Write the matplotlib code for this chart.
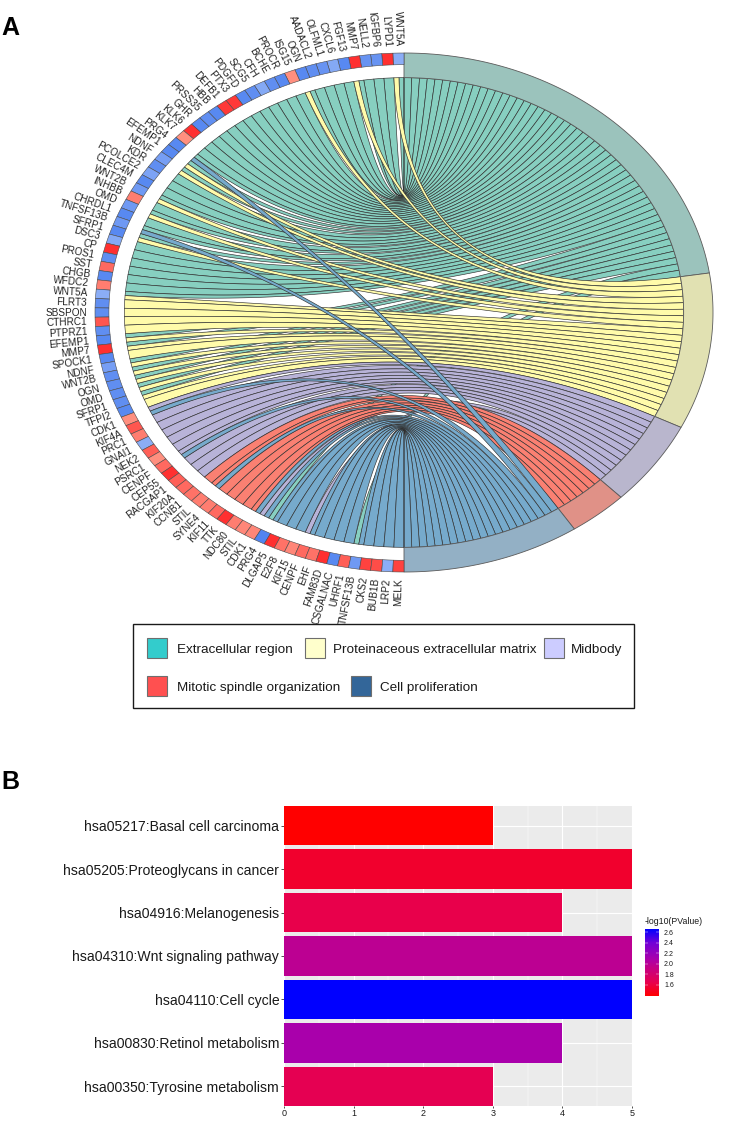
import numpy as np
import matplotlib
matplotlib.use("Agg")
import matplotlib.pyplot as plt
from matplotlib.colors import LinearSegmentedColormap, Normalize
from matplotlib.cm import ScalarMappable
from matplotlib.patches import Rectangle

plt.rcParams['font.family'] = ['Liberation Sans', 'DejaVu Sans']

# panel A, genes from the top going anticlockwise
genes = ['WNT5A', 'LYPD1', 'IGFBP6', 'NELL2', 'MMP7', 'FGF13', 'CXCL6', 'OLFML1', 'AADACL2', 'OGN',
         'ISG15', 'PROCR', 'BCHE', 'CFH', 'SCG5', 'PDGFD', 'PTX3', 'DEFB1', 'HBB', 'PRSS35',
         'GHR', 'KLK6', 'KLK7', 'PRG4', 'EFEMP1', 'NDNF', 'KDR', 'PCOLCE2', 'CLEC4M', 'WNT2B',
         'INHBB', 'OMD', 'CHRDL1', 'TNFSF13B', 'SFRP1', 'DSC3', 'CP', 'PROS1', 'SST', 'CHGB',
         'WFDC2', 'WNT5A', 'FLRT3', 'SBSPON', 'CTHRC1', 'PTPRZ1', 'EFEMP1', 'MMP7', 'SPOCK1', 'NDNF',
         'WNT2B', 'OGN', 'OMD', 'SFRP1', 'TFPI2', 'CDK1', 'KIF4A', 'PRC1', 'GNAI1', 'NEK2',
         'PSRC1', 'CENPF', 'CEP55', 'RACGAP1', 'KIF20A', 'CCNB1', 'STIL', 'SYNE4', 'KIF11', 'TTK',
         'NDC80', 'STIL', 'CDK1', 'PRG4', 'DLGAP5', 'E2F8', 'KIF15', 'CENPF', 'EHF', 'FAM83D',
         'CSGALNAC', 'UHRF1', 'TNFSF13B', 'CKS2', 'BUB1B', 'LRP2', 'MELK']

# fold change colour of each gene cell, estimated from the shades
gene_fc = [-0.55, 1.0, -0.8, -0.8, 1.0, -0.9, -0.6, -0.8, -0.85, -0.9,
           0.5, -0.9, -0.85, -0.6, -0.85, -0.9, 0.95, 0.95, -0.9, -0.85,
           -0.9, 1.0, 0.5, -0.9, -0.9, -0.7, -0.85, -0.65, -0.9, -0.75,
           0.6, -0.75, -0.9, -0.75, -0.9, -0.6, 1.0, -0.85, 0.7, -0.9,
           0.6, -0.55, -0.85, -0.85, 0.8, -0.85, -0.9, 1.0, -0.9, -0.7,
           -0.85, -0.85, -0.85, -0.85, -0.9, 0.5, 0.8, 0.6, -0.55, 0.75,
           0.5, 0.7, 1.0, 0.75, 0.7, 0.65, 0.6, 0.6, 0.7, 1.0,
           0.6, 0.55, 0.55, -0.95, 1.0, 0.65, 0.55, 0.7, 0.65, 1.0,
           -0.9, 0.75, -0.75, 0.9, 0.85, -0.55, 0.9]

# rows of each term, the term order is also the draw order
rows_ec = [0, 1, 2, 3, 4, 5, 6, 7, 8, 9, 10, 11, 12, 13, 14, 15, 16, 17, 18, 19, 20,
           21, 22, 23, 24, 25, 26, 27, 28, 29, 30, 31, 32, 33, 34, 35, 36, 37, 38, 39, 40,
           41, 46, 47, 49, 50, 51, 52, 53, 73, 82]
rows_matrix = [0, 4, 9, 24, 25, 29, 31, 34, 41, 42, 43, 44, 45, 46, 47, 48, 49, 50, 51, 52, 53, 54]
rows_midbody = [55, 56, 57, 58, 59, 60, 61, 62, 63, 64, 72, 77]
rows_spindle = [65, 66, 67, 68, 69, 70, 71]
rows_prolif = [23, 33, 55, 61, 66, 71, 72, 73, 74, 75, 76, 77, 78, 79, 80, 81, 82, 83, 84, 85, 86]

term_rows = [rows_ec, rows_matrix, rows_midbody, rows_spindle, rows_prolif]
ribbon_cols = ['#87CFC0', '#FFFBAA', '#B8B3D8', '#FA8072', '#76AACC']
ring_cols = ['#9BC3BC', '#E1E1B2', '#B9B6CD', '#E09187', '#93B0C5']

legend_names = ['Extracellular region', 'Proteinaceous extracellular matrix', 'Midbody',
                'Mitotic spindle organization', 'Cell proliferation']
legend_cols = ['#33CCCC', '#FFFFCC', '#CCCCFF', '#FF5050', '#336699']

# panel B
kegg_terms = ['hsa05217:Basal cell carcinoma', 'hsa05205:Proteoglycans in cancer', 'hsa04916:Melanogenesis',
              'hsa04310:Wnt signaling pathway', 'hsa04110:Cell cycle', 'hsa00830:Retinol metabolism',
              'hsa00350:Tyrosine metabolism']
kegg_counts = [3, 5, 4, 5, 5, 4, 3]
kegg_logp = [1.39, 1.54, 1.64, 1.99, 2.66, 2.09, 1.67]
cbar_ticks = [1.6, 1.8, 2.0, 2.2, 2.4, 2.6]

W, H = 740, 1133
fig = plt.figure(figsize=(W / 100, H / 100), dpi=100)

# pixel overlay for the legend and the panel letters
bg = fig.add_axes([0, 0, 1, 1])
bg.set_xlim(0, W)
bg.set_ylim(H, 0)
bg.axis('off')

# ellipse: 1 unit is 309 px wide and 259.5 px high, centre at (404, 312.5)
cx, cy, rx, ry = 404, 312.5, 309, 259.5
bottom_px = 760
ax = fig.add_axes([0, 1 - bottom_px / H, 1, bottom_px / H])
ax.set_xlim(-cx / rx, (W - cx) / rx)
ax.set_ylim((cy - bottom_px) / ry, cy / ry)
ax.axis('off')
ax.patch.set_alpha(0)

R_CHORD = 0.905
R_GENE = 0.955
n_rows = len(genes)
row_deg = 180.0 / n_rows
n_links = sum(len(r) for r in term_rows)
link_deg = 180.0 / n_links


def pol(theta, r, side):
    # theta in degrees clockwise from the top, side +1 right and -1 left
    t = np.radians(theta)
    return side * r * np.sin(t), r * np.cos(t)


def ring_cell(t0, t1, r0, r1, side, col, edge, lw=0.5):
    t = np.linspace(t0, t1, 60)
    xo, yo = pol(t, r1, side)
    xi, yi = pol(t[::-1], r0, side)
    ax.fill(np.r_[xo, xi], np.r_[yo, yi], fc=col, ec=edge, lw=lw, zorder=5)


def chord_edge(a, b):
    # same curve as GOChord: quadratic bezier pulled to the centre
    s = np.linspace(0, 1, 80)
    xa, ya = pol(a, R_CHORD, 1)
    xb, yb = pol(b, R_CHORD, -1)
    return (1 - s) ** 2 * xa + s ** 2 * xb, (1 - s) ** 2 * ya + s ** 2 * yb


# how many terms share one gene row
row_terms = [[] for _ in genes]
for ti, rows in enumerate(term_rows):
    for r in rows:
        row_terms[r].append(ti)

start = 0.0
for ti, rows in enumerate(term_rows):
    for k, r in enumerate(rows):
        a1 = start + k * link_deg
        a2 = a1 + link_deg
        pos = row_terms[r].index(ti)
        sub = row_deg / len(row_terms[r])
        l1 = r * row_deg + pos * sub
        l2 = l1 + sub
        x1, y1 = chord_edge(a1, l1)
        x2, y2 = chord_edge(a2, l2)
        ax.fill(np.r_[x1, x2[::-1]], np.r_[y1, y2[::-1]], fc=ribbon_cols[ti], ec='#303030',
                lw=0.45, joinstyle='round', zorder=2 + ti * 0.1)
    end = start + len(rows) * link_deg
    ring_cell(start, end, R_CHORD, 1.0, 1, ring_cols[ti], '#5A5A5A', lw=0.6)
    start = end

fc_cmap = LinearSegmentedColormap.from_list('fc', [(0.0, '#4A7FEF'), (0.25, '#93B3F7'), (0.5, '#FFFFFF'),
                                                   (0.75, '#FF9080'), (1.0, '#FF3030')])
for i, g in enumerate(genes):
    t0 = i * row_deg
    ring_cell(t0, t0 + row_deg, R_GENE, 1.0, -1, fc_cmap((gene_fc[i] + 1) / 2), '#4A4A4A', lw=0.4)
    mid = np.radians(t0 + row_deg / 2)
    # radial text, rotation taken on screen so it follows the ellipse
    sx = np.sin(mid) * rx
    sy = np.cos(mid) * ry
    rot = np.degrees(np.arctan2(-sy, sx))
    lx, ly = pol(t0 + row_deg / 2, 1.026, -1)
    ax.text(lx, ly, g, fontsize=7.2, rotation=rot, rotation_mode='anchor', ha='right', va='center',
            color='#222222', zorder=6)

# legend box
bg.add_patch(Rectangle((133, 624), 501, 84, fc='white', ec='#1A1A1A', lw=1.0))
legend_swatch_x = [147, 305, 544, 147, 351]
legend_text_x = [177, 333, 571, 177, 380]
legend_y = [648, 648, 648, 686, 686]
for name, col, sx, tx, yy in zip(legend_names, legend_cols, legend_swatch_x, legend_text_x, legend_y):
    bg.add_patch(Rectangle((sx, yy - 10), 20, 20, fc=col, ec='#6E6E6E', lw=0.8))
    bg.text(tx, yy + 2, name, fontsize=9.7, va='center', ha='left', color='#1A1A1A')

bg.text(1, 35, 'A', fontsize=18, fontweight='bold', ha='left', va='baseline', color='black')
bg.text(1, 789, 'B', fontsize=18, fontweight='bold', ha='left', va='baseline', color='black')

# panel B, ggplot look
ax2 = fig.add_axes([284 / W, 1 - 1106 / H, (632 - 284) / W, (1106 - 806) / H])
ax2.set_facecolor('#EBEBEB')
logp_cmap = LinearSegmentedColormap.from_list('logp', [(0.0, '#FF0000'), (0.2, '#E8004D'), (0.47, '#BC0092'),
                                                       (0.55, '#AA00AA'), (0.8, '#7000D8'), (1.0, '#0000FF')])
logp_norm = Normalize(1.39, 2.66)
y_pos = np.arange(1, len(kegg_terms) + 1)
ax2.barh(y_pos, kegg_counts, height=0.9, color=logp_cmap(logp_norm(kegg_logp)), zorder=3)
ax2.set_xlim(0, 5)
ax2.set_ylim(7.45, 0.55)
ax2.set_yticks(y_pos)
ax2.set_yticklabels(kegg_terms, fontsize=10.1, color='#1A1A1A')
ax2.set_xticks([0, 1, 2, 3, 4, 5])
ax2.set_xticks([0.5, 1.5, 2.5, 3.5, 4.5], minor=True)
ax2.tick_params(axis='x', which='major', labelsize=6.5, length=1.5, width=0.6, color='#333333',
                labelcolor='#1A1A1A', pad=0.5)
ax2.tick_params(axis='y', length=2, width=0.6, color='#333333', pad=1.5)
ax2.tick_params(axis='x', which='minor', length=0)
ax2.grid(True, which='major', color='white', lw=0.8, zorder=1)
ax2.grid(True, which='minor', axis='x', color='white', lw=0.35, zorder=1)
ax2.set_axisbelow(True)
for sp in ax2.spines.values():
    sp.set_visible(False)

# colour bar
cax = fig.add_axes([645 / W, 1 - 996 / H, 13.5 / W, 67 / H])
sm = ScalarMappable(norm=logp_norm, cmap=logp_cmap)
cb = fig.colorbar(sm, cax=cax, ticks=cbar_ticks)
cb.outline.set_visible(False)
cb.ax.tick_params(length=0, labelsize=5, pad=4, labelcolor='#1A1A1A')
cb.ax.set_yticklabels(['%.1f' % v for v in cbar_ticks])
cb.ax.hlines(cbar_ticks, 0, 0.2, color='white', lw=0.3, transform=cb.ax.get_yaxis_transform())
cb.ax.hlines(cbar_ticks, 0.8, 1, color='white', lw=0.3, transform=cb.ax.get_yaxis_transform())
bg.text(645, 921, '-log10(PValue)', fontsize=6.3, ha='left', va='center', color='#1A1A1A')

fig.savefig('out.png', dpi=100)
